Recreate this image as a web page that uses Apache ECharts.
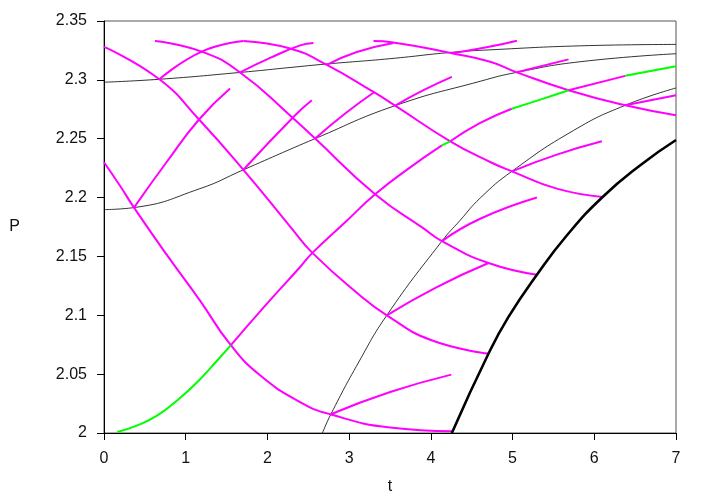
<!DOCTYPE html>
<html>
<head>
<meta charset="utf-8">
<script src="https://cdn.jsdelivr.net/npm/echarts@6/dist/echarts.min.js"></script>
<style>
  html, body { margin: 0; padding: 0; background: #fff; }
  #chart { width: 708px; height: 496px; }
</style>
</head>
<body>
<div id="chart"></div>
<script>
// descending curves (magenta)
var d1 = [[0,2.230],[0.196,2.210],[0.367,2.1915],[0.767,2.1515],[1.175,2.1125],[1.543,2.0754],[1.91,2.049],[2.4,2.0263],[2.767,2.0159],[3.5,2.0046],[4.257,2.0015]];
var d2 = [[0,2.328],[0.677,2.3005],[1.163,2.2663],[1.706,2.2236],[2.298,2.1737],[2.55,2.153],[3.13,2.117],[3.461,2.100],[4.0,2.079],[4.706,2.0675]];
var d3 = [[0.624,2.333],[1.196,2.324],[1.665,2.3063],[2.277,2.2698],[2.584,2.2501],[3.318,2.2028],[3.91,2.1738],[4.135,2.163],[4.706,2.1444],[5.298,2.1345]];
var d4 = [[1.706,2.333],[2.277,2.3266],[2.727,2.3128],[3.298,2.2897],[3.563,2.2781],[4.237,2.2478],[4.726,2.2302],[4.992,2.2223],[5.542,2.2076],[6.102,2.2005]];
var d5 = [[3.298,2.333],[3.54,2.3318],[4.257,2.3226],[4.726,2.3154],[5.053,2.3064],[5.685,2.2912],[6.379,2.2784],[7.0,2.270]];

// rising curves (magenta)
var r1 = [[0.367,2.1915],[0.767,2.2302],[1.163,2.2663],[1.543,2.2926]];
var r2 = [[0.677,2.3005],[1.196,2.324],[1.706,2.333]];
var r3 = [[1.665,2.3063],[2.033,2.3186],[2.4,2.3293],[2.563,2.3314]];
var r4 = [[1.706,2.2236],[2.318,2.2685],[2.543,2.2826]];
var r5 = [[2.584,2.2501],[2.951,2.2714],[3.31,2.2897]];
var r6 = [[2.727,2.3128],[3.094,2.3237],[3.542,2.3314]];
var r7 = [[3.563,2.2781],[3.91,2.2912],[4.257,2.3025]];
var r8 = [[3.461,2.1],[4.073,2.124],[4.706,2.1444]];
var r9 = [[2.776,2.0159],[3.502,2.0348],[4.25,2.0496]];
var r10 = [[4.992,2.2223],[5.542,2.2365],[6.093,2.2478]];
var r11 = [[4.135,2.163],[4.604,2.182],[5.298,2.2]];
var r12 = [[6.379,2.2784],[7.0,2.2869]];
var r13 = [[5.053,2.3064],[5.685,2.3174]];
var r14 = [[4.257,2.3226],[4.665,2.3274],[5.053,2.3333]];

// long rising curve, alternating green / magenta pieces
var longGreen1 = [[0.163,2.0008],[0.408,2.0065],[0.653,2.015],[0.898,2.0278],[1.143,2.0433],[1.388,2.0618],[1.551,2.0745]];
var longMag1 = [[1.551,2.0745],[1.951,2.1065],[2.4,2.141],[2.55,2.153],[2.951,2.179],[3.318,2.2028],[3.726,2.2246],[4.135,2.2443]];
var longGreen2 = [[4.135,2.2443],[4.237,2.2478]];
var longMag2 = [[4.237,2.2478],[4.604,2.2634],[4.99,2.2755]];
var longGreen3 = [[4.99,2.2755],[5.339,2.2832],[5.685,2.2912]];
var longMag3 = [[5.685,2.2912],[6.379,2.3034]];
var longGreen4 = [[6.379,2.3034],[7.0,2.3116]];

// black curves
var b1 = [[0,2.298],[0.677,2.3005],[1.665,2.3063],[2.277,2.3105],[2.727,2.3135],[3.502,2.318],[4.257,2.3234],[4.726,2.3255],[5.828,2.3289],[7.0,2.3301]];
var b2 = [[0,2.1898],[0.367,2.1915],[1.175,2.2076],[1.706,2.2236],[2.584,2.2501],[3.563,2.2781],[4.604,2.2988],[5.053,2.3064],[5.828,2.3154],[7.0,2.3222]];
var b3 = [[2.673,2.0],[2.776,2.0159],[3.118,2.0603],[3.461,2.1],[4.135,2.163],[4.359,2.1807],[4.604,2.1996],[4.992,2.2223],[5.746,2.257],[6.379,2.2784],[7.0,2.2931]];
var bThick = [[4.257,2.0],[4.706,2.0675],[4.95,2.0986],[5.298,2.1345],[5.666,2.168],[6.102,2.2005],[6.563,2.2275],[7.0,2.2489]];

var MAGENTA = '#ff00ff', GREEN = '#00ff00';

function curve(data, color, width) {
    return {
        type: 'line',
        data: data,
        showSymbol: false,
        symbol: 'none',
        smooth: 0.5,
        silent: true,
        lineStyle: { color: color, width: width }
    };
}

var series = [];
[b1, b2, b3].forEach(function (c) { series.push(curve(c, '#000', 0.8)); });
[d1, d2, d3, d4, d5, r1, r2, r3, r4, r5, r6, r7, r8, r9, r10, r11, r12, r13, r14,
 longMag1, longMag2, longMag3].forEach(function (c) { series.push(curve(c, MAGENTA, 2)); });
[longGreen1, longGreen2, longGreen3, longGreen4].forEach(function (c) { series.push(curve(c, GREEN, 2)); });
series.push(curve(bThick, '#000', 2.6));

var labelFont = { fontFamily: 'Liberation Sans', fontSize: 16, color: '#111' };

var chart = echarts.init(document.getElementById('chart'));
chart.setOption({
    animation: false,
    backgroundColor: '#fff',
    grid: {
        left: 104, right: 32, top: 21, bottom: 63,
        containLabel: false, outerBoundsMode: 'none',
        show: true, borderColor: '#555', borderWidth: 1
    },
    xAxis: {
        type: 'value', min: 0, max: 7, interval: 1,
        name: 't', nameLocation: 'middle', nameGap: 46,
        nameTextStyle: labelFont,
        axisLine: { show: true, onZero: false, lineStyle: { color: '#000', width: 1 } },
        axisTick: { show: true, inside: false, length: 7, lineStyle: { color: '#000' } },
        axisLabel: Object.assign({ margin: 18 }, labelFont),
        splitLine: { show: false }
    },
    yAxis: {
        type: 'value', min: 2, max: 2.35, interval: 0.05,
        name: 'P', nameLocation: 'middle', nameGap: 84, nameRotate: 0,
        nameTextStyle: labelFont,
        axisLine: { show: true, onZero: false, lineStyle: { color: '#000', width: 1 } },
        axisTick: { show: true, inside: false, length: 7, lineStyle: { color: '#000' } },
        axisLabel: Object.assign({ margin: 17 }, labelFont),
        splitLine: { show: false }
    },
    series: series
});
</script>
</body>
</html>
